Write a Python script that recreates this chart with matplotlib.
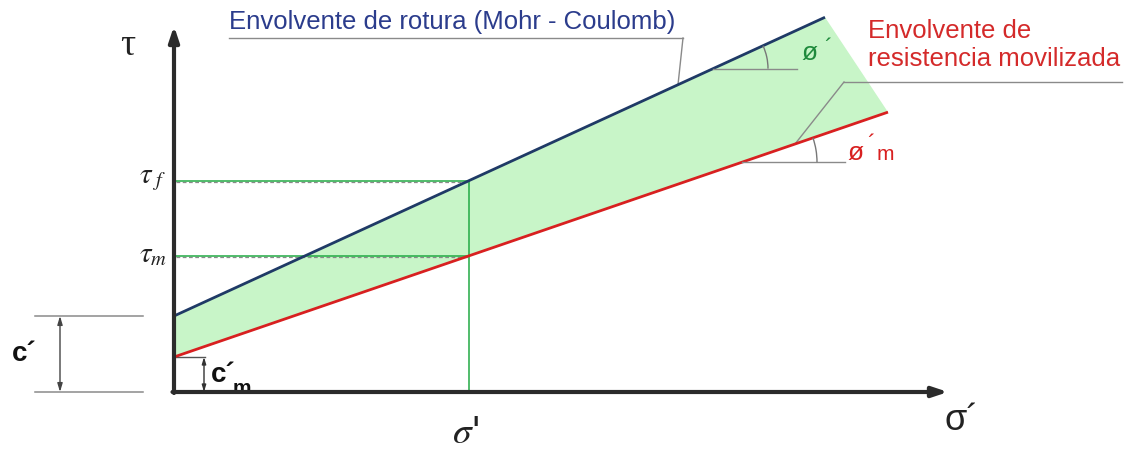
import numpy as np
import matplotlib
matplotlib.use("Agg")
import matplotlib.pyplot as plt
from matplotlib.patches import Polygon, Arc

# Envelopes: Mohr-Coulomb failure and mobilised strength
envelopes = ["rotura", "movilizada"]
cohesion = [76, 35]            # c', c'm
friction_deg = [24.65, 18.93]  # phi', phi'm
envelope_end = [651, 714]      # sigma' where each envelope line stops
sigma_point = 295              # sigma' of the reference point

line_colors = ["#1f3a66", "#d82020"]
green = "#22aa44"
fill_green = "#c8f5c8"
gray = "#8a8a8a"

tan_phi = np.tan(np.radians(friction_deg))
tau_f = cohesion[0] + tan_phi[0] * sigma_point
tau_m = cohesion[1] + tan_phi[1] * sigma_point

fig = plt.figure(figsize=(11.27, 4.51), dpi=100)
ax = fig.add_axes([0, 0, 1, 1])
ax.set_xlim(-174, 953)
ax.set_ylim(-59, 392)
ax.axis("off")

# shaded band between the two envelopes
top_end = (envelope_end[0], cohesion[0] + tan_phi[0] * envelope_end[0])
bot_end = (envelope_end[1], cohesion[1] + tan_phi[1] * envelope_end[1])
band = Polygon([(0, cohesion[0]), top_end, bot_end, (0, cohesion[1])],
               closed=True, facecolor=fill_green, edgecolor="none", zorder=1)
ax.add_patch(band)

# envelope lines
for c, t, end, col in zip(cohesion, tan_phi, envelope_end, line_colors):
    s = np.array([0, end])
    ax.plot(s, c + t * s, color=col, lw=2.0, zorder=4, solid_capstyle="butt")

# reference lines to tau_f, tau_m and sigma'
for tau in [tau_f, tau_m]:
    ax.plot([2, sigma_point], [tau - 1.5, tau - 1.5], color=gray, lw=0.9, ls=(0, (3, 2)), zorder=2)
    ax.plot([2, sigma_point], [tau, tau], color=green, lw=1.1, zorder=3)
ax.plot([sigma_point, sigma_point], [0, tau_f], color=green, lw=1.1, zorder=3)

# axes with arrows
ax.annotate("", xy=(0, 366), xytext=(0, -1),
            arrowprops=dict(arrowstyle="-|>,head_length=0.9,head_width=0.3", color="#2b2b2b", lw=3.0,
                            shrinkA=0, shrinkB=0), zorder=5)
ax.annotate("", xy=(774, 0), xytext=(-1.5, 0),
            arrowprops=dict(arrowstyle="-|>,head_length=0.9,head_width=0.3", color="#2b2b2b", lw=3.0,
                            shrinkA=0, shrinkB=0), zorder=5)

serif = "Liberation Serif"
sans = "Liberation Sans"
ax.text(-46, 346, "τ", fontsize=27, family=serif, ha="center", va="center", color="#222222")
ax.text(-21, 213, r"$\tau_{\ f}$", fontsize=21, ha="center", va="center", color="#222222",
        math_fontfamily="stix")
ax.text(-21, 138, r"$\tau_{m}$", fontsize=21, ha="center", va="center", color="#222222",
        math_fontfamily="stix")
ax.text(sigma_point - 3, -41, r"$\sigma$'", fontsize=27, ha="center", va="center", color="#222222",
        math_fontfamily="stix")
ax.text(788, -28, "σ´", fontsize=26, family=sans, ha="center", va="center", color="#222222")

# cohesion dimension c'
ax.plot([-139, -31], [cohesion[0], cohesion[0]], color=gray, lw=1.1)
ax.plot([-139, -31], [0, 0], color=gray, lw=1.1)
ax.annotate("", xy=(-114, cohesion[0]), xytext=(-114, 0),
            arrowprops=dict(arrowstyle="<|-|>,head_length=0.5,head_width=0.15", color="#444444", lw=1.0,
                            shrinkA=0, shrinkB=0))
ax.text(-150, 38, "c´", fontsize=20, family=sans, weight="bold", ha="center", va="center", color="#111111")

# cohesion dimension c'm
ax.plot([0, 31], [cohesion[1], cohesion[1]], color="#555555", lw=1.0)
ax.annotate("", xy=(30, cohesion[1]), xytext=(30, 0),
            arrowprops=dict(arrowstyle="<|-|>,head_length=0.4,head_width=0.12", color="#333333", lw=1.0,
                            shrinkA=0, shrinkB=0))
ax.text(37, 17, "c´", fontsize=20, family=sans, weight="bold", ha="left", va="center", color="#111111")
ax.text(59, 3, "m", fontsize=15, family=sans, weight="bold", ha="left", va="center", color="#111111")

# friction angle markers: horizontal from the envelope plus an arc up to it
angle_marks = [(539, 623, 55), (568, 671, 75)]   # start sigma', end sigma', arc radius
for c, t, ang, (xs, xe, r) in zip(cohesion, tan_phi, friction_deg, angle_marks):
    y0 = c + t * xs
    ax.plot([xs, xe], [y0, y0], color=gray, lw=1.0, zorder=4)
    ax.add_patch(Arc((xs, y0), 2 * r, 2 * r, theta1=0, theta2=ang, color="#777777", lw=1.0, zorder=4))

ax.text(635, 339, "ø", fontsize=19, family=sans, color="#1f8a3c", ha="center", va="center")
ax.text(654, 343, "´", fontsize=17, family=sans, color="#1f8a3c", ha="center", va="center")
ax.text(681, 239, "ø", fontsize=19, family=sans, color=line_colors[1], ha="center", va="center")
ax.text(697, 247, "´", fontsize=17, family=sans, color=line_colors[1], ha="center", va="center")
ax.text(711, 237, "m", fontsize=15, family=sans, color=line_colors[1], ha="center", va="center")

# envelope captions with leaders
blue_text = "#2b3c8c"
ax.text(55, 370, "Envolvente de rotura (Mohr - Coulomb)", fontsize=18.5, family=sans,
        color=blue_text, ha="left", va="center")
ax.plot([55, 509], [354, 354], color=gray, lw=1.0)
x_lead = 504
ax.plot([509, x_lead], [354, cohesion[0] + tan_phi[0] * x_lead], color=gray, lw=1.0)

red_text = "#d42a2a"
ax.text(694, 361, "Envolvente de", fontsize=18.5, family=sans, color=red_text, ha="left", va="center")
ax.text(694, 333, "resistencia movilizada", fontsize=18.5, family=sans, color=red_text,
        ha="left", va="center")
ax.plot([670, 948], [310, 310], color=gray, lw=1.0)
x_lead2 = 621
ax.plot([670, x_lead2], [310, cohesion[1] + tan_phi[1] * x_lead2], color=gray, lw=1.0)

fig.savefig("out.png", dpi=100, facecolor="white")
